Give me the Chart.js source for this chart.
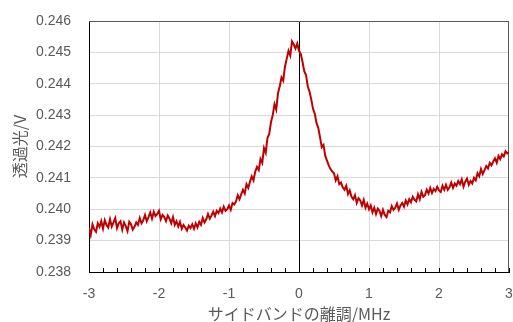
<!DOCTYPE html>
<html>
<head>
<meta charset="utf-8">
<script src="https://cdn.jsdelivr.net/npm/chart.js@4/dist/chart.umd.min.js"></script>
<style>
html,body{margin:0;padding:0;background:#fff;}
#wrap{width:513px;height:322px;position:relative;}
</style>
</head>
<body>
<div id="wrap"><canvas id="c" width="513" height="322"></canvas></div>
<script>
// sampling grid of the trace (MHz)
const xStart = -3;
const xStep = 0.025;
// transmitted light (V), one value per 0.025 MHz
const transmission = [
0.23940,0.23918,0.23952,0.23936, 0.23928,0.23955,0.23944,0.23962,
0.23938,0.23965,0.23950,0.23942, 0.23968,0.23945,0.23958,0.23972,
0.23940,0.23955,0.23962,0.23935, 0.23958,0.23946,0.23930,0.23960,
0.23952,0.23935,0.23944,0.23958, 0.23950,0.23972,0.23955,0.23965,
0.23982,0.23962,0.23975,0.23990, 0.23970,0.23992,0.23978,0.23985,
0.23995,0.23968,0.23982,0.23975, 0.23962,0.23980,0.23970,0.23955,
0.23975,0.23950,0.23962,0.23945, 0.23960,0.23938,0.23950,0.23942,
0.23932,0.23948,0.23940,0.23952, 0.23938,0.23955,0.23942,0.23960,
0.23950,0.23972,0.23958,0.23968, 0.23985,0.23970,0.23980,0.23992,
0.23978,0.23995,0.23988,0.24002, 0.23990,0.24008,0.23995,0.24000,
0.24012,0.23998,0.24020,0.24015, 0.24025,0.24045,0.24032,0.24048,
0.24062,0.24050,0.24080,0.24068, 0.24088,0.24105,0.24092,0.24120,
0.24135,0.24125,0.24160,0.24148, 0.24195,0.24180,0.24228,0.24240,
0.24278,0.24300,0.24335,0.24318, 0.24370,0.24392,0.24420,0.24410,
0.24455,0.24480,0.24505,0.24490, 0.24535,0.24525,0.24512,0.24528,
0.24505,0.24495,0.24470,0.24440, 0.24428,0.24392,0.24375,0.24350,
0.24320,0.24305,0.24275,0.24260, 0.24230,0.24198,0.24205,0.24170,
0.24155,0.24140,0.24128,0.24120, 0.24115,0.24092,0.24105,0.24080,
0.24085,0.24070,0.24062,0.24075, 0.24048,0.24060,0.24040,0.24032,
0.24045,0.24020,0.24035,0.24028, 0.24012,0.24030,0.24005,0.24018,
0.24000,0.24012,0.23990,0.24005, 0.23985,0.24002,0.23995,0.23978,
0.23998,0.23982,0.23975,0.23995, 0.23990,0.24010,0.23998,0.24005,
0.24018,0.23998,0.24012,0.24020, 0.24008,0.24028,0.24015,0.24032,
0.24022,0.24040,0.24030,0.24025, 0.24048,0.24032,0.24055,0.24040,
0.24045,0.24062,0.24050,0.24068, 0.24052,0.24065,0.24058,0.24072,
0.24060,0.24055,0.24075,0.24062, 0.24078,0.24062,0.24070,0.24085,
0.24068,0.24082,0.24075,0.24090, 0.24080,0.24095,0.24072,0.24088,
0.24098,0.24078,0.24090,0.24082, 0.24100,0.24092,0.24115,0.24105,
0.24128,0.24112,0.24125,0.24138, 0.24130,0.24148,0.24140,0.24152,
0.24162,0.24148,0.24170,0.24160, 0.24175,0.24168,0.24185,0.24178,
0.24182
];
const xTickValues = [-3, -2, -1, 0, 1, 2, 3];
const yTickValues = [0.238, 0.239, 0.240, 0.241, 0.242, 0.243, 0.244, 0.245, 0.246];
const xTitle = 'サイドバンドの離調/MHz';
const yTitle = '透過光/V';

const points = transmission.map((v, i) => ({ x: xStart + i * xStep, y: v }));

const framePlugin = {
  id: 'frame',
  beforeDatasetsDraw(chart) {
    const { ctx, chartArea: a, scales: { x } } = chart;
    ctx.save();
    ctx.strokeStyle = '#000';
    ctx.lineWidth = 1;
    for (let k = -15; k <= 15; k++) {
      const px = Math.round(x.getPixelForValue(k * 0.2)) + 0.5;
      ctx.beginPath();
      ctx.moveTo(px, a.bottom);
      ctx.lineTo(px, a.bottom - 4);
      ctx.stroke();
    }
    const p0 = Math.round(x.getPixelForValue(0)) + 0.5;
    ctx.beginPath();
    ctx.moveTo(p0, a.top);
    ctx.lineTo(p0, a.bottom);
    ctx.stroke();
    ctx.strokeStyle = '#595959';
    ctx.beginPath();
    ctx.moveTo(a.left, Math.round(a.top) + 0.5);
    ctx.lineTo(a.right, Math.round(a.top) + 0.5);
    ctx.moveTo(Math.round(a.right) - 0.5, a.top);
    ctx.lineTo(Math.round(a.right) - 0.5, a.bottom);
    ctx.stroke();
    ctx.restore();
  }
};

new Chart(document.getElementById('c'), {
  type: 'line',
  data: {
    datasets: [{
      data: points,
      borderColor: '#C00000',
      borderWidth: 2,
      pointRadius: 0,
      tension: 0,
      fill: false
    }]
  },
  options: {
    responsive: false,
    animation: false,
    events: [],
    layout: { padding: { left: 0, right: 4, top: 21, bottom: 0 } },
    plugins: { legend: { display: false }, tooltip: { enabled: false } },
    scales: {
      x: {
        type: 'linear',
        min: -3, max: 3,
        afterBuildTicks: (s) => { s.ticks = xTickValues.map(v => ({ value: v })); },
        afterFit: (s) => { s.height = 50; s.paddingLeft = 0; s.paddingRight = 0; },
        ticks: {
          padding: 14,
          color: '#595959',
          font: { family: 'Liberation Sans', size: 14 },
          maxRotation: 0,
          callback: (v) => String(v)
        },
        grid: {
          drawTicks: false,
          color: (c) => (c.tick && (c.tick.value === 0 || c.tick.value === 3)) ? 'rgba(0,0,0,0)' : '#d9d9d9',
          lineWidth: 1
        },
        border: { color: '#000', width: 1 },
        title: {
          display: true,
          text: xTitle,
          color: '#595959',
          font: { family: 'Noto Sans CJK JP', size: 16, lineHeight: 1 },
          padding: { top: 0, bottom: 0 }
        }
      },
      y: {
        type: 'linear',
        min: 0.238, max: 0.246,
        afterBuildTicks: (s) => { s.ticks = yTickValues.map(v => ({ value: v })); },
        afterFit: (s) => { s.width = 89; s.paddingTop = 0; s.paddingBottom = 0; },
        ticks: {
          padding: 18,
          color: '#595959',
          font: { family: 'Liberation Sans', size: 14 },
          callback: (v) => Number(v).toFixed(3)
        },
        grid: {
          drawTicks: false,
          color: '#d9d9d9',
          lineWidth: 1
        },
        border: { color: '#000', width: 1 },
        title: {
          display: true,
          text: yTitle,
          color: '#595959',
          font: { family: 'Noto Sans CJK JP', size: 16, lineHeight: 1 },
          padding: { top: 12, bottom: 0 }
        }
      }
    }
  },
  plugins: [framePlugin]
});
</script>
</body>
</html>
